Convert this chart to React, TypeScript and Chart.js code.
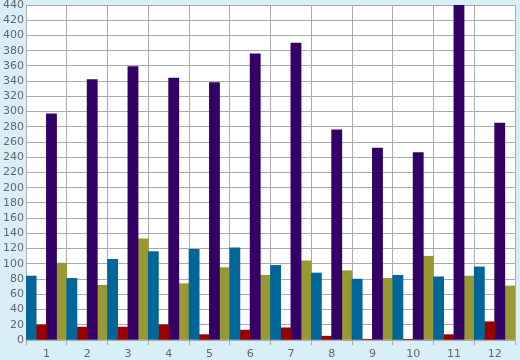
import React, { useEffect, useRef } from "react";
import { Chart, registerables } from "chart.js";

Chart.register(...registerables);

const categories = ["1", "2", "3", "4", "5", "6", "7", "8", "9", "10", "11", "12"];
const seriesBlue = [84, 81, 106, 116, 119, 121, 98, 88, 80, 85, 83, 96];
const seriesRed = [20, 17, 17, 20, 7, 13, 16, 5, 1, 1, 7, 24];
const seriesPurple = [297, 342, 359, 344, 338, 376, 390, 276, 252, 246, 440, 285];
const seriesOlive = [101, 72, 133, 74, 95, 85, 104, 91, 81, 110, 84, 71];

const bgPlugin = {
  id: "bgPlugin",
  beforeDraw(chart: any) {
    const { ctx, chartArea, width, height } = chart;
    ctx.save();
    ctx.fillStyle = "#d9eff7";
    ctx.fillRect(0, 0, width, height);
    ctx.fillStyle = "#ffffff";
    ctx.fillRect(chartArea.left, chartArea.top, chartArea.right - chartArea.left, chartArea.bottom - chartArea.top);
    ctx.restore();
  },
};

export default function App() {
  const ref = useRef<HTMLCanvasElement | null>(null);
  useEffect(() => {
    document.body.style.margin = "0";
    const font = { family: "DejaVu Sans", size: 11 };
    const chart = new Chart(ref.current!, {
      type: "bar",
      data: {
        labels: categories,
        datasets: [
          { data: seriesBlue, backgroundColor: "#006699" },
          { data: seriesRed, backgroundColor: "#990000" },
          { data: seriesPurple, backgroundColor: "#330066" },
          { data: seriesOlive, backgroundColor: "#999933" },
        ],
      },
      options: {
        animation: false,
        responsive: false,
        devicePixelRatio: 1,
        layout: { padding: { top: 5, right: 5, left: 0, bottom: 0 } },
        plugins: { legend: { display: false }, tooltip: { enabled: false } },
        datasets: { bar: { categoryPercentage: 1, barPercentage: 1 } },
        scales: {
          x: {
            grid: { color: "#aaaaaa", offset: true, tickLength: 5, lineWidth: 1 },
            border: { color: "#aaaaaa" },
            ticks: { color: "#666666", font, padding: 3, maxRotation: 0, autoSkip: false },
            afterFit(scale: any) {
              scale.height = 20;
              scale.paddingLeft = 0;
              scale.paddingRight = 0;
            },
          },
          y: {
            min: 0,
            max: 440,
            grid: { color: "#aaaaaa", drawTicks: false, lineWidth: 1 },
            border: { color: "#aaaaaa" },
            ticks: { stepSize: 20, color: "#666666", font, padding: 2, autoSkip: false },
            afterFit(scale: any) {
              scale.width = 26;
              scale.paddingTop = 0;
              scale.paddingBottom = 0;
            },
          },
        },
      },
      plugins: [bgPlugin],
    });
    return () => chart.destroy();
  }, []);
  return (
    <div style={{ position: "absolute", left: 0, top: 0, width: 520, height: 360 }}>
      <canvas ref={ref} width={520} height={360} style={{ width: 520, height: 360, display: "block" }} />
    </div>
  );
}
